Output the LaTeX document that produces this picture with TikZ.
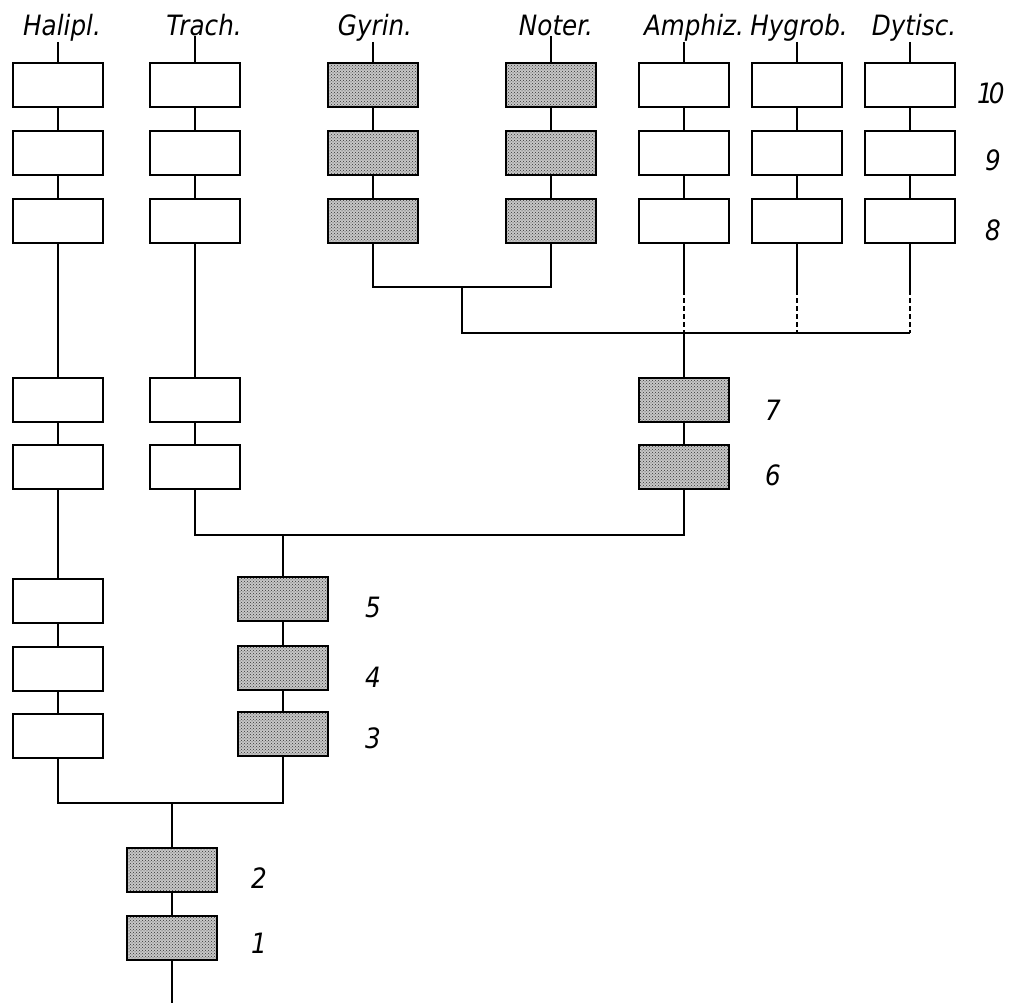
\documentclass[tikz,border=0pt]{standalone}
\usepackage{fontspec}
\newfontfamily\lettering[FakeStretch=0.88]{DejaVu Sans}
\usetikzlibrary{positioning,patterns}

\tikzset{
  box/.style={draw, rectangle, line width=1.8pt, minimum width=90pt, minimum height=44pt, inner sep=0pt},
  dotted box/.style={box, preaction={fill=black!22}, pattern=crosshatch dots, pattern color=black!80},
  taxon/.style={font=\fontsize{28}{28}\selectfont\lettering\itshape, anchor=base, inner sep=0pt, outer sep=0pt},
  stage/.style={font=\fontsize{28}{28}\selectfont\lettering\itshape, inner sep=0pt},
  edge/.style={line width=1.6pt}
}

\begin{document}
\begin{tikzpicture}[x=1pt,y=-1pt]
  \useasboundingbox (0,0) rectangle (1009,1003);

  %  Define nodes
  \node[taxon] (halipl) at (62,36) {Halipl.};
  \node[taxon] (trach) at (204,36) {Trach.};
  \node[taxon] (gyrin) at (375,36) {Gyrin.};
  \node[taxon] (noter) at (556,36) {Noter.};
  \node[taxon] (amphiz) at (694,36) {Amphiz.};
  \node[taxon] (hygrob) at (799,36) {Hygrob.};
  \node[taxon] (dytisc) at (914,36) {Dytisc.};

  \node[box] (halipl1) at (58,85) {};
  \node[box] (halipl2) at (58,153) {};
  \node[box] (halipl3) at (58,221) {};
  \node[box] (halipl4) at (58,400) {};
  \node[box] (halipl5) at (58,467) {};
  \node[box] (halipl6) at (58,601) {};
  \node[box] (halipl7) at (58,669) {};
  \node[box] (halipl8) at (58,736) {};

  \node[box] (trach1) at (195,85) {};
  \node[box] (trach2) at (195,153) {};
  \node[box] (trach3) at (195,221) {};
  \node[box] (trach4) at (195,400) {};
  \node[box] (trach5) at (195,467) {};

  \node[dotted box] (gyrin1) at (373,85) {};
  \node[dotted box] (gyrin2) at (373,153) {};
  \node[dotted box] (gyrin3) at (373,221) {};

  \node[dotted box] (noter1) at (551,85) {};
  \node[dotted box] (noter2) at (551,153) {};
  \node[dotted box] (noter3) at (551,221) {};

  \node[box] (amphiz1) at (684,85) {};
  \node[box] (amphiz2) at (684,153) {};
  \node[box] (amphiz3) at (684,221) {};

  \node[box] (hygrob1) at (797,85) {};
  \node[box] (hygrob2) at (797,153) {};
  \node[box] (hygrob3) at (797,221) {};

  \node[box] (dytisc1) at (910,85) {};
  \node[box] (dytisc2) at (910,153) {};
  \node[box] (dytisc3) at (910,221) {};

  \node[dotted box] (seven) at (684,400) {};
  \node[dotted box] (six) at (684,467) {};
  \node[dotted box] (five) at (283,599) {};
  \node[dotted box] (four) at (283,668) {};
  \node[dotted box] (three) at (283,734) {};
  \node[dotted box] (two) at (172,870) {};
  \node[dotted box] (one) at (172,938) {};

  % Stage numbers
  \node[stage, right=35pt of dytisc1, anchor=center, yshift=-8pt] (lab10) {1\kern-4pt0};
  \node[stage, right=37pt of dytisc2, anchor=center, yshift=-7pt] (lab9) {9};
  \node[stage, right=37pt of dytisc3, anchor=center, yshift=-9pt] (lab8) {8};
  \node[stage, right=43pt of seven, anchor=center, yshift=-10pt] (lab7) {7};
  \node[stage, right=43pt of six, anchor=center, yshift=-8pt] (lab6) {6};
  \node[stage, right=44pt of five, anchor=center, yshift=-8pt] (lab5) {5};
  \node[stage, right=44pt of four, anchor=center, yshift=-9pt] (lab4) {4};
  \node[stage, right=44pt of three, anchor=center, yshift=-4pt] (lab3) {3};
  \node[stage, right=41pt of two, anchor=center, yshift=-8pt] (lab2) {2};
  \node[stage, right=41pt of one, anchor=center, yshift=-5pt] (lab1) {1};

  % Branch points
  \coordinate (gynot) at (462,287);
  \coordinate (dashtop) at (462,290);
  \coordinate (adephag) at (462,333);
  \coordinate (trachamph) at (283,535);
  \coordinate (base) at (172,803);
  \coordinate (root) at (172,1003);

  % Connect the nodes
  \draw[edge] (halipl1 |- halipl.south) -- (halipl1);
  \draw[edge] (trach1 |- trach.south) -- (trach1);
  \draw[edge] (gyrin1 |- gyrin.south) -- (gyrin1);
  \draw[edge] (noter1 |- noter.south) -- (noter1);
  \draw[edge] (amphiz1 |- amphiz.south) -- (amphiz1);
  \draw[edge] (hygrob1 |- hygrob.south) -- (hygrob1);
  \draw[edge] (dytisc1 |- dytisc.south) -- (dytisc1);

  \draw[edge] (halipl1) -- (halipl2) -- (halipl3) -- (halipl4) -- (halipl5) -- (halipl6) -- (halipl7) -- (halipl8);
  \draw[edge] (trach1) -- (trach2) -- (trach3) -- (trach4) -- (trach5);
  \draw[edge] (gyrin1) -- (gyrin2) -- (gyrin3);
  \draw[edge] (noter1) -- (noter2) -- (noter3);
  \draw[edge] (amphiz1) -- (amphiz2) -- (amphiz3);
  \draw[edge] (hygrob1) -- (hygrob2) -- (hygrob3);
  \draw[edge] (dytisc1) -- (dytisc2) -- (dytisc3);

  \draw[edge] (gyrin3.south) |- (gynot) -| (noter3.south);
  \draw[edge] (gynot) -- (adephag) -- (adephag -| dytisc3);

  \draw[edge] (amphiz3.south) -- (amphiz3 |- dashtop);
  \draw[edge] (hygrob3.south) -- (hygrob3 |- dashtop);
  \draw[edge] (dytisc3.south) -- (dytisc3 |- dashtop);
  \draw[edge, dash pattern=on 5pt off 3pt] (amphiz3 |- dashtop) -- (amphiz3 |- adephag);
  \draw[edge, dash pattern=on 5pt off 3pt] (hygrob3 |- dashtop) -- (hygrob3 |- adephag);
  \draw[edge, dash pattern=on 5pt off 3pt] (dytisc3 |- dashtop) -- (dytisc3 |- adephag);

  \draw[edge] (amphiz3 |- adephag) -- (seven);
  \draw[edge] (seven) -- (six);
  \draw[edge] (six.south) |- (trachamph) -| (trach5.south);
  \draw[edge] (trachamph) -- (five);
  \draw[edge] (five) -- (four) -- (three);
  \draw[edge] (three.south) |- (base) -| (halipl8.south);
  \draw[edge] (base) -- (two);
  \draw[edge] (two) -- (one);
  \draw[edge] (one) -- (root);

\end{tikzpicture}
\end{document}
